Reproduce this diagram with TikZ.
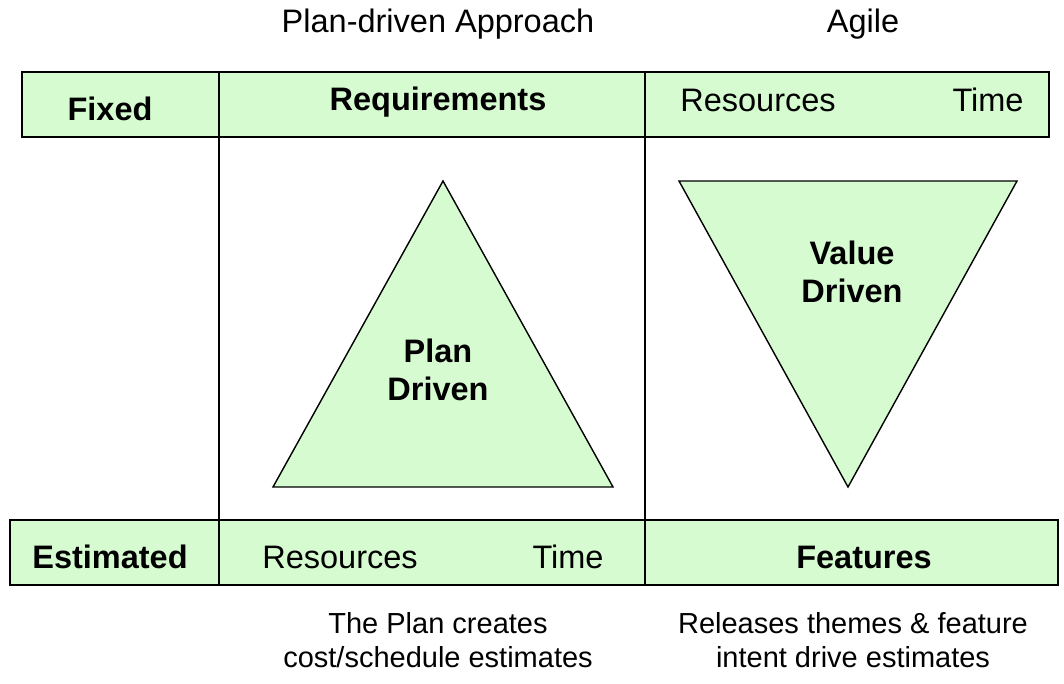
\documentclass[tikz,border=0pt]{standalone}
\usepackage{fontspec}
\setmainfont{Liberation Sans}
\definecolor{cellgreen}{RGB}{214,251,208}
\begin{document}
\begin{tikzpicture}[x=1pt,y=-1pt,
  cell/.style={draw=black,fill=cellgreen,line width=1.6pt},
  tri/.style={draw=black,fill=cellgreen,line width=1.4pt,line join=miter},
  sep/.style={draw=black,line width=1.4pt},
  txt/.style={font=\fontsize{32.5}{38}\selectfont,inner sep=0pt,anchor=base},
  btxt/.style={font=\fontsize{32.5}{38}\selectfont\bfseries,inner sep=0pt,anchor=base},
  mtxt/.style={font=\fontsize{32.5}{38}\selectfont\bfseries,inner sep=0pt,align=center},
  captxt/.style={font=\fontsize{29}{34}\selectfont,inner sep=0pt,align=center}]
\useasboundingbox (0,0) rectangle (1064,684);
% top row
\draw[cell] (22,72) rectangle (1049,137);
\draw[sep] (219,72) -- (219,519);
\draw[sep] (645,72) -- (645,519);
% bottom row
\draw[cell] (10,520) rectangle (1058,585);
\draw[sep] (219,520) -- (219,585);
\draw[sep] (645,520) -- (645,585);
% triangles
\draw[tri] (443,181) -- (613,487) -- (273,487) -- cycle;
\draw[tri] (679,181) -- (1017,181) -- (848,487) -- cycle;
% texts
\node[txt] (plan) at (438,33) {Plan-driven Approach};
\node[txt] (agile) at (863,33) {Agile};
\node[btxt] (fixed) at (110,121) {Fixed};
\node[btxt] (req) at (438,111) {Requirements};
\node[txt] (res1) at (758,112) {Resources};
\node[txt] (time1) at (988,112) {Time};
\node[mtxt] (pd) at (438,370) {Plan\\Driven};
\node[mtxt] (vd) at (852,272) {Value\\Driven};
\node[btxt] (est) at (110,568) {Estimated};
\node[txt] (res2) at (340,568) {Resources};
\node[txt] (time2) at (568,568) {Time};
\node[btxt] (feat) at (864,568) {Features};
\node[captxt] (c1) at (438,640) {The Plan creates\\cost/schedule estimates};
\node[captxt] (c2) at (853,640) {Releases themes \& feature\\intent drive estimates};
\end{tikzpicture}
\end{document}
